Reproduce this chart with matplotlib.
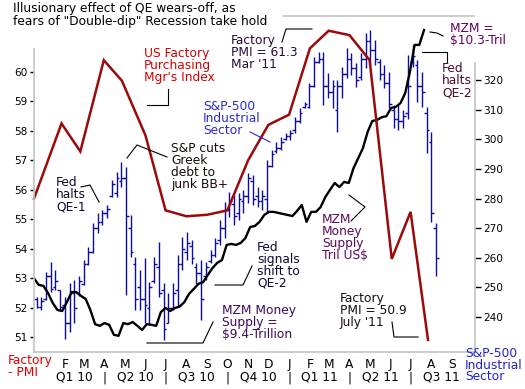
import matplotlib
matplotlib.use("Agg")
import matplotlib.pyplot as plt
import matplotlib.dates as mdates
import matplotlib.transforms as mtransforms
from matplotlib.lines import Line2D
import pandas as pd

""" ---------- data read off the chart ---------- """

# US factory purchasing managers index (left axis)
pmi_dates = ['2009-12-17', '2010-01-27', '2010-02-24', '2010-03-31', '2010-04-27',
             '2010-06-01', '2010-07-01', '2010-08-01', '2010-09-01', '2010-10-01',
             '2010-11-01', '2010-12-01', '2011-01-01', '2011-02-01', '2011-03-01',
             '2011-04-01', '2011-05-01', '2011-06-03', '2011-07-01', '2011-07-27']
pmi_values = [55.7, 58.25, 57.3, 60.4, 59.7, 57.85, 55.3, 55.1, 55.15, 55.3,
              57.0, 58.2, 58.55, 60.8, 61.4, 61.25, 60.4, 53.65, 55.25, 50.9]

# S&P-500 industrial sector, weekly bars (right axis)
bar_start = '2009-12-21'
bar_high = [246.8, 246.8, 255.2, 258.6, 255.8, 249.1, 246.8, 251.4, 252.4, 254.0,
            259.2, 263.7, 271.7, 275.1, 276.1, 277.8, 286.2, 288.9, 292.3, 290.6,
            274.4, 260.2, 255.8, 259.9, 251.8, 260.2, 265.3, 251.4, 248.0, 251.4,
            260.9, 267.0, 268.6, 266.0, 258.2, 259.2, 258.5, 262.6, 266.6, 272.7,
            278.8, 282.2, 281.2, 281.8, 282.8, 288.6, 287.9, 284.0, 282.8, 293.0,
            296.3, 299.0, 300.7, 302.1, 303.1, 307.6, 310.5, 312.6, 319.0, 327.8,
            329.5, 329.5, 322.4, 320.0, 320.0, 324.4, 330.8, 329.1, 325.7, 329.1,
            335.9, 336.9, 333.5, 327.0, 325.1, 322.7, 311.6, 311.6, 310.0, 328.4,
            331.8, 326.8, 322.7, 310.9, 302.4, 271.7]
bar_low = [242.9, 242.5, 245.7, 248.5, 249.1, 242.3, 232.7, 234.9, 237.9, 247.0,
           250.7, 257.5, 261.6, 268.3, 271.0, 273.4, 280.5, 280.5, 283.9, 247.4,
           260.2, 242.3, 242.3, 237.9, 237.2, 251.4, 246.7, 232.2, 237.9, 242.3,
           243.3, 255.8, 259.2, 258.0, 251.0, 238.9, 252.4, 258.2, 260.2, 264.4,
           266.6, 273.7, 271.0, 272.7, 275.0, 278.5, 277.8, 277.0, 276.0, 275.4,
           290.6, 295.3, 296.3, 299.7, 299.7, 302.1, 305.5, 310.5, 310.5, 317.6,
           325.7, 311.6, 313.9, 310.5, 302.4, 313.9, 320.7, 321.7, 317.6, 320.0,
           324.1, 325.1, 325.1, 320.0, 317.3, 310.5, 303.8, 303.1, 303.8, 307.0,
           324.4, 312.6, 310.9, 295.3, 272.0, 253.8]
bar_open = [246, 243.5, 246, 254, 250, 249, 244, 238, 248, 248,
            251, 258, 262, 270, 272, 275, 281, 282, 286, 287,
            270, 258, 250, 246, 243, 252, 257, 249, 238, 243,
            249, 258, 262, 264, 257, 255, 254, 259, 261, 266,
            270, 276, 278, 275, 279, 281, 286, 281, 279, 280,
            291, 296, 297, 300, 301, 303, 306, 311, 311, 318,
            326, 327, 318, 316, 310, 318, 322, 327, 324, 321,
            327, 333, 330, 326, 322, 319, 310, 307, 306, 309,
            326, 325, 318, 309, 299, 270]
bar_close = [243.5, 245.5, 254, 249.5, 252, 243.5, 238, 248, 243, 252,
             258, 262, 270, 272, 275, 276.5, 285, 287, 287, 274,
             262, 246, 246, 244, 250, 258, 248, 236, 243, 248,
             258, 263, 265, 260, 255, 246, 257, 261, 265, 270,
             276, 279, 274, 280, 281, 287, 280, 279, 281, 291,
             295, 297, 299, 301, 302, 306, 309, 312, 318, 326,
             327, 318, 316, 318, 318, 322, 327, 324, 320, 327,
             333, 330, 327, 322, 319, 312, 307, 306, 308, 318,
             328, 318, 316, 303, 275, 260]

# MZM money supply, trillion US$, weekly (own hidden scale)
mzm_start = '2009-12-17'
mzm_values = [9.579, 9.560, 9.557, 9.536, 9.507, 9.487, 9.484, 9.510, 9.539, 9.539,
              9.528, 9.519, 9.487, 9.446, 9.441, 9.449, 9.444, 9.415, 9.412, 9.449,
              9.446, 9.452, 9.441, 9.429, 9.446, 9.444, 9.441, 9.481, 9.493, 9.484,
              9.493, 9.497, 9.510, 9.534, 9.548, 9.563, 9.568, 9.589, 9.609, 9.624,
              9.632, 9.676, 9.679, 9.676, 9.682, 9.696, 9.728, 9.731, 9.743, 9.763,
              9.772, 9.772, 9.769, 9.766, 9.763, 9.760, 9.775, 9.792, 9.743, 9.772,
              9.772, 9.786, 9.815, 9.836, 9.856, 9.844, 9.859, 9.856, 9.899, 9.928,
              9.957, 10.004, 10.036, 10.039, 10.047, 10.050, 10.074, 10.077, 10.088, 10.117,
              10.178, 10.257, 10.257, 10.300]

month_letters = ['F', 'M', 'A', 'M', 'J', 'J', 'A', 'S', 'O', 'N',
                 'D', 'J', 'F', 'M', 'A', 'M', 'J', 'J', 'A', 'S']
quarter_labels = ['Q1 10', 'Q2 10', 'Q3 10', 'Q4 10', 'Q1 11', 'Q2 11', 'Q3 11']
pmi_ticks = [51, 52, 53, 54, 55, 56, 57, 58, 59, 60]
spx_ticks = [240, 250, 260, 270, 280, 290, 300, 310, 320]

""" ---------- layout helpers (pixel -> figure fraction) ---------- """

W, H = 525, 389
FS = 8.8


def fx(x):
    return x / W


def fy(y):
    return 1 - y / H


def leader(xs, ys, color='black'):
    fig.add_artist(Line2D([fx(x) for x in xs], [fy(y) for y in ys],
                          transform=fig.transFigure, color=color, lw=0.8, zorder=6))


def note(x, y, s, color='black', size=FS, ls=0.9):
    fig.text(fx(x), fy(y), s, color=color, fontsize=size, va='top', ha='left',
             linespacing=ls, zorder=7)


RED_LINE = '#9b0a0a'
BAR_BLUE = '#0c0ca0'
SPINE = '#c4c4c4'

fig = plt.figure(figsize=(W / 100, H / 100), dpi=100)
ax = fig.add_axes([fx(34), fy(352), (475 - 34) / W, (352 - 16) / H])
ax2 = ax.twinx()
ax3 = ax.twinx()
ax.set_zorder(3)
ax3.set_zorder(2)
ax2.set_zorder(1)
for a in (ax, ax2, ax3):
    a.patch.set_visible(False)

x_left = mdates.date2num(pd.Timestamp('2009-12-17'))
x_right = mdates.date2num(pd.Timestamp('2011-10-05'))
ax.set_xlim(x_left, x_right)
ax.set_ylim(50.49, 61.9)
ax2.set_ylim(228.2, 341.6)
ax3.set_ylim(9.365, 10.341)

# weekly bars
bar_x = mdates.date2num(pd.date_range(bar_start, periods=len(bar_high), freq='7D'))
tick = 4.0
ax2.vlines(bar_x, bar_low, bar_high, color=BAR_BLUE, lw=1.0)
ax2.hlines(bar_open, bar_x - tick, bar_x, color=BAR_BLUE, lw=1.0)
ax2.hlines(bar_close, bar_x, bar_x + tick, color=BAR_BLUE, lw=1.0)

# MZM line
mzm_x = mdates.date2num(pd.date_range(mzm_start, periods=len(mzm_values), freq='7D'))
ax3.plot(mzm_x, mzm_values, color='black', lw=1.7, solid_joinstyle='round')

# PMI line
ax.plot(mdates.date2num(pd.to_datetime(pmi_dates)), pmi_values, color=RED_LINE, lw=1.8,
        solid_joinstyle='miter', clip_on=False)

# axes cosmetics
for a in (ax2, ax3):
    for sp in a.spines.values():
        sp.set_visible(False)
for sp in ax.spines.values():
    sp.set_color(SPINE)
    sp.set_linewidth(1.2)
ax.spines['left'].set_bounds(50.49, 60.78)
ax.spines['right'].set_bounds(50.49, 60.31)
ax.spines['top'].set_bounds(mdates.date2num(pd.Timestamp('2010-12-23')), x_right - 2)

ax.set_yticks(pmi_ticks)
ax.tick_params(axis='y', labelsize=7.6, length=3, width=1, pad=1.5)
ax2.set_yticks(spx_ticks)
ax2.tick_params(axis='y', labelsize=7.6, length=4, width=1, pad=2)
ax3.set_yticks([])

month_x = mdates.date2num(pd.date_range('2010-02-01', periods=len(month_letters), freq='MS'))
ax.set_xticks(month_x)
ax.set_xticklabels(month_letters)
ax.tick_params(axis='x', length=0, labelsize=FS, pad=4.5)

q_starts = mdates.date2num(pd.date_range('2010-01-01', periods=len(quarter_labels) + 1, freq='QS'))
trans = mtransforms.blended_transform_factory(ax.transData, fig.transFigure)
for i, lab in enumerate(quarter_labels):
    lo = max(q_starts[i], x_left)
    hi = min(q_starts[i + 1], x_right)
    ax.text((lo + hi) / 2, fy(371), lab, transform=trans, ha='center', va='top',
            fontsize=FS, clip_on=False)
for q in q_starts[1:-1]:
    ax.text(q, fy(371), '|', transform=trans, ha='center', va='top', fontsize=FS, clip_on=False)

""" ---------- titles and annotations ---------- """

note(13, 2, 'Illusionary effect of QE wears-off, as\nfears of "Double-dip" Recession take hold', ls=0.95)
note(144, 47, "US Factory\nPurchasing\nMgr's Index", color='#d40000')
leader([168, 168, 147], [89, 105, 105])
note(231, 34, "Factory\nPMI = 61.3\nMar '11", color='#2a0a3a')
leader([282, 286, 312], [42, 29, 29])
note(450, 22, "MZM =\n$10.3-Tril", color='#66005f')
leader([430, 437, 443], [32, 33, 36])
note(442, 62, "Fed\nhalts\nQE-2", color='#4a0a30')
leader([422, 447, 447], [52, 52, 62])
note(203, 100, "S&P-500\nIndustrial\nSector", color='#2b2bd0')
leader([250, 270], [132, 142], color='#2b2bd0')
note(56, 176, "Fed\nhalts\nQE-1", color='#0a0a33')
leader([81, 90, 99], [187, 185, 202])
note(171, 142, "S&P cuts\nGreek\ndebt to\njunk BB+", color='#1a0a0a')
leader([127, 137, 167], [158, 145, 157])
note(322, 213, "MZM\nMoney\nSupply\nTril US$", color='#5c0a5c')
leader([349, 365, 351], [195, 207, 221])
note(257, 241, "Fed\nsignals\nshift to\nQE-2", color='#0a0a33')
leader([215, 243, 252], [285, 285, 266])
note(222, 304, "MZM Money\nSupply =\n$9.4-Trillion", color='#3d0a5c')
leader([147, 203, 213], [343, 343, 322])
note(340, 292, "Factory\nPMI = 50.9\nJuly '11", color='#1a0a1a')
leader([392, 394, 418], [322, 337, 337])

note(8, 354, "Factory\n- PMI", color='#e00000')
note(465, 347, "S&P-500\nIndustrial\nSector", color='#2020d0', ls=0.87)

fig.savefig('out.png', dpi=100)
